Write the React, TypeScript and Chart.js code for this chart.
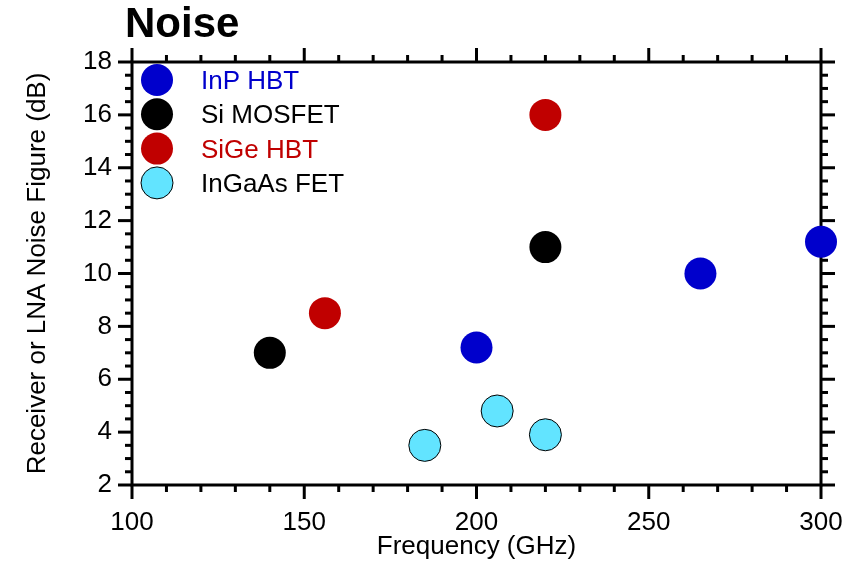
import React, { useEffect, useRef } from 'react';
import { Chart, registerables } from 'chart.js';

Chart.register(...registerables);

// ---- Data ----
const seriesNames = ['InP HBT', 'Si MOSFET', 'SiGe HBT', 'InGaAs FET'];
const inpFreq = [200, 265, 300];
const inpNF = [7.2, 10.0, 11.2];
const siFreq = [140, 220];
const siNF = [7.0, 11.0];
const sigeFreq = [156, 220];
const sigeNF = [8.5, 16.0];
const ingaasFreq = [185, 206, 220];
const ingaasNF = [3.5, 4.8, 3.9];
const xTickLabels = [100, 150, 200, 250, 300];
const yTickLabels = [2, 4, 6, 8, 10, 12, 14, 16, 18];

const FONT = '"Liberation Sans", Arial, Helvetica, sans-serif';

const toPts = (xs: number[], ys: number[]) => xs.map((x, i) => ({ x, y: ys[i] }));

const framePlugin = {
  id: 'frameTicks',
  beforeDatasetsDraw(chart: any) {
    const { ctx, chartArea, scales } = chart;
    const { left, right, top, bottom } = chartArea;
    const xs = scales.x;
    const ys = scales.y;
    ctx.save();
    ctx.strokeStyle = '#000';
    ctx.lineWidth = 3;
    ctx.lineCap = 'butt';
    const line = (x1: number, y1: number, x2: number, y2: number) => {
      ctx.beginPath();
      ctx.moveTo(x1, y1);
      ctx.lineTo(x2, y2);
      ctx.stroke();
    };
    const xMin = xTickLabels[0];
    const xMax = xTickLabels[xTickLabels.length - 1];
    for (let v = xMin; v <= xMax + 1e-6; v += 10) {
      const px = xs.getPixelForValue(v);
      const major = xTickLabels.includes(v);
      const len = major ? 14 : 7;
      line(px, bottom, px, bottom + len);
      line(px, top, px, top - len);
    }
    const yMin = yTickLabels[0];
    const yMax = yTickLabels[yTickLabels.length - 1];
    for (let v = yMin; v <= yMax + 1e-6; v += 0.5) {
      const py = ys.getPixelForValue(v);
      const major = yTickLabels.includes(v);
      const len = major ? 14 : 7;
      line(left, py, left - len, py);
      line(right, py, right + len, py);
    }
    ctx.strokeRect(left, top, right - left, bottom - top);
    ctx.restore();
  },
  afterDraw(chart: any) {
    const { ctx } = chart;
    ctx.save();
    // Title
    ctx.fillStyle = '#000';
    ctx.font = `bold 42px ${FONT}`;
    ctx.textAlign = 'left';
    ctx.textBaseline = 'alphabetic';
    ctx.fillText('Noise', 125, 37);
    // Legend
    const ds = chart.data.datasets;
    ds.forEach((d: any, i: number) => {
      const cy = 80 + i * 34.3;
      const cx = 157;
      ctx.beginPath();
      ctx.arc(cx, cy, 16, 0, Math.PI * 2);
      ctx.fillStyle = d.backgroundColor;
      ctx.fill();
      if (d.borderWidth > 0) {
        ctx.lineWidth = d.borderWidth;
        ctx.strokeStyle = d.borderColor;
        ctx.stroke();
      }
      ctx.font = `26px ${FONT}`;
      ctx.fillStyle = d.labelColor;
      ctx.textBaseline = 'alphabetic';
      ctx.fillText(d.label, 201, cy + 9);
    });
    ctx.restore();
  },
};

export default function App() {
  const ref = useRef<HTMLCanvasElement | null>(null);
  useEffect(() => {
    if (!ref.current) return;
    const chart = new Chart(ref.current, {
      type: 'scatter',
      data: {
        datasets: [
          {
            label: seriesNames[0],
            data: toPts(inpFreq, inpNF),
            backgroundColor: '#0000CC',
            borderColor: '#0000CC',
            borderWidth: 0,
            pointRadius: 16,
            clip: false,
            labelColor: '#0000CC',
          } as any,
          {
            label: seriesNames[1],
            data: toPts(siFreq, siNF),
            backgroundColor: '#000000',
            borderColor: '#000000',
            borderWidth: 0,
            pointRadius: 16,
            clip: false,
            labelColor: '#000000',
          } as any,
          {
            label: seriesNames[2],
            data: toPts(sigeFreq, sigeNF),
            backgroundColor: '#C00000',
            borderColor: '#C00000',
            borderWidth: 0,
            pointRadius: 16,
            clip: false,
            labelColor: '#C00000',
          } as any,
          {
            label: seriesNames[3],
            data: toPts(ingaasFreq, ingaasNF),
            backgroundColor: '#62E4FF',
            borderColor: '#000000',
            borderWidth: 1,
            pointRadius: 16,
            clip: false,
            labelColor: '#000000',
          } as any,
        ],
      },
      options: {
        responsive: false,
        animation: false,
        devicePixelRatio: 1,
        layout: { padding: { left: 0, top: 62, right: 45, bottom: 0 } },
        plugins: {
          legend: { display: false },
          tooltip: { enabled: false },
          title: { display: false },
        },
        scales: {
          x: {
            type: 'linear',
            min: xTickLabels[0],
            max: xTickLabels[xTickLabels.length - 1],
            afterFit: (s: any) => {
              s.height = 83;
            },
            afterBuildTicks: (s: any) => {
              s.ticks = xTickLabels.map((v) => ({ value: v }));
            },
            ticks: {
              font: { family: FONT, size: 26 },
              color: '#000',
              padding: 22,
              maxRotation: 0,
              autoSkip: false,
            },
            grid: { display: false, drawTicks: false },
            border: { display: false },
            title: {
              display: true,
              text: 'Frequency (GHz)',
              color: '#000',
              font: { family: FONT, size: 26 },
              padding: { top: 0, bottom: 6 },
            },
          },
          y: {
            type: 'linear',
            min: yTickLabels[0],
            max: yTickLabels[yTickLabels.length - 1],
            afterFit: (s: any) => {
              s.width = 132;
            },
            afterBuildTicks: (s: any) => {
              s.ticks = yTickLabels.map((v) => ({ value: v }));
            },
            ticks: {
              font: { family: FONT, size: 26 },
              color: '#000',
              padding: 20,
              autoSkip: false,
            },
            grid: { display: false, drawTicks: false },
            border: { display: false },
            title: {
              display: true,
              text: 'Receiver or LNA Noise Figure (dB)',
              color: '#000',
              font: { family: FONT, size: 26 },
              padding: { top: 22, bottom: 0 },
            },
          },
        },
      } as any,
      plugins: [framePlugin],
    });
    return () => chart.destroy();
  }, []);
  return (
    <div style={{ position: 'fixed', left: 0, top: 0, width: 866, height: 568, background: '#fff' }}>
      <canvas ref={ref} width={866} height={568} style={{ display: 'block' }} />
    </div>
  );
}
